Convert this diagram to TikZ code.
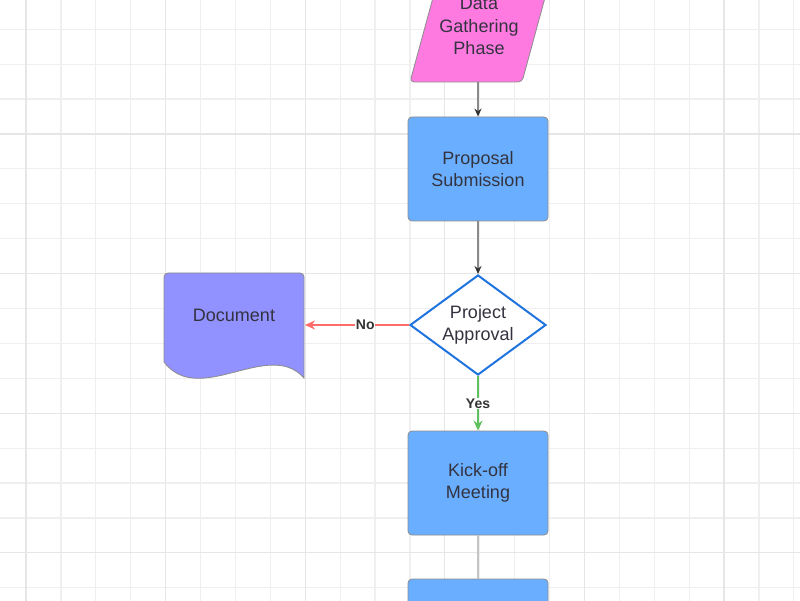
\documentclass[tikz,border=0pt]{standalone}
\usepackage{fontspec}
\setmainfont{Liberation Sans}
\usetikzlibrary{shapes.geometric,arrows.meta}
\definecolor{gridminor}{HTML}{EFEFEF}
\definecolor{gridmajor}{HTML}{E6E6E6}
\definecolor{pinkfill}{HTML}{FF7AE0}
\definecolor{boxblue}{HTML}{6AAFFF}
\definecolor{docfill}{HTML}{9191FF}
\definecolor{diablue}{HTML}{1F74E0}
\definecolor{yesgreen}{HTML}{5DC25D}
\definecolor{nored}{HTML}{FF6B6B}
\definecolor{txt}{HTML}{333340}
\definecolor{edgegray}{HTML}{8A8A8A}
\definecolor{tipc}{HTML}{333333}
\definecolor{shapeborder}{HTML}{8C8C8C}
\definecolor{lightline}{HTML}{C4C4C4}
\begin{document}
\begin{tikzpicture}[x=1pt,y=-1pt,
  lbltext/.style={align=center, text=txt, font=\fontsize{18}{22.5}\selectfont},
  procbox/.style={rectangle, rounded corners=4pt, minimum width=140pt, minimum height=104pt,
    fill=boxblue, draw=shapeborder, line width=0.8pt, lbltext},
  decision/.style={diamond, aspect=1.4, inner sep=0pt, minimum width=136pt, minimum height=100pt,
    fill=white, draw=diablue, line width=2pt, lbltext},
  edgelbl/.style={fill=white, inner sep=0.5pt, text=tipc, font=\fontsize{14}{16}\selectfont\bfseries},
  grayarrow/.style={draw=edgegray, line width=1.5pt, -{Stealth[length=8pt,width=7pt,color=tipc]}},
  redarrow/.style={draw=nored, line width=2pt, -{Stealth[length=10pt,width=9pt]}},
  greenarrow/.style={draw=yesgreen, line width=2pt, -{Stealth[length=10pt,width=9pt]}},
  plainline/.style={draw=lightline, line width=2pt}
]
\useasboundingbox (0,0) rectangle (800,601);
\clip (0,0) rectangle (800,601);
\fill[white] (0,0) rectangle (800,601);
% grid
\foreach \i in {-1,...,22} \draw[gridminor, line width=1.2pt] ({26+34.9*\i},0) -- ({26+34.9*\i},601);
\foreach \j in {-4,...,14} \draw[gridminor, line width=1.2pt] (0,{134+34.9*\j}) -- (800,{134+34.9*\j});
\foreach \i in {0,...,5} \draw[gridmajor, line width=1.2pt] ({26+139.6*\i},0) -- ({26+139.6*\i},601);
\foreach \j in {-1,...,3} \draw[gridmajor, line width=1.2pt] (0,{134+139.6*\j}) -- (800,{134+139.6*\j});

% data gathering parallelogram
\draw[fill=pinkfill, draw=shapeborder, line width=0.8pt, rounded corners=4pt]
  (410,82) -- (440,-28) -- (552,-28) -- (522,82) -- cycle;
\node[lbltext] (data) at (479,26) {Data\\Gathering\\Phase};
\coordinate (dataS) at (478,82);

% boxes
\node[procbox] (prop) at (478,169) {Proposal\\Submission};
\node[decision] (appr) at (478,325) {Project\\Approval};
\node[procbox] (kick) at (478,483) {Kick-off\\Meeting};
\node[procbox] (nextbox) at (478,631) {};

% document shape
\draw[fill=docfill, draw=shapeborder, line width=0.8pt]
  (164,362) [rounded corners=4pt] -- (164,273) -- (304,273) [sharp corners] -- (304,378)
  .. controls (269,338) and (199,408) .. (164,362) -- cycle;
\node[lbltext] (doc) at (234,315) {Document};
\coordinate (docE) at (305,325);

% connectors
\draw[grayarrow] (dataS) -- (prop.north);
\draw[grayarrow] (prop.south) -- (appr.north);
\draw[redarrow] (appr.west) -- node[edgelbl, pos=0.42] {No} (docE);
\draw[greenarrow] (appr.south) -- node[edgelbl, pos=0.5] {Yes} (kick.north);
\draw[plainline] (kick.south) -- (nextbox.north);
\end{tikzpicture}
\end{document}
